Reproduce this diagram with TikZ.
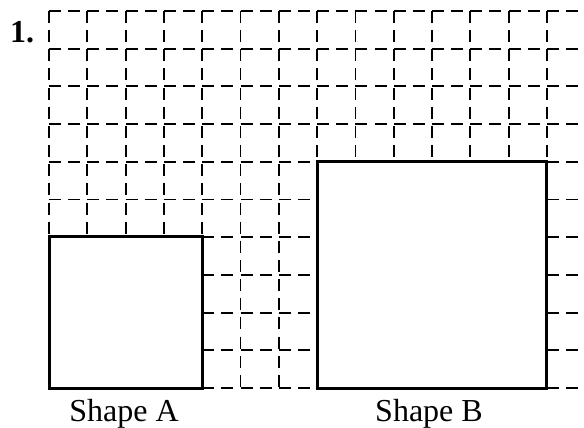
\documentclass[tikz,border=0pt]{standalone}
\usepackage{fontspec}
\setmainfont{Liberation Serif}
\begin{document}
\begin{tikzpicture}[x=1pt,y=-1pt,
  gridline/.style={line width=1.8pt, dash pattern=on 12pt off 7.15pt},
  shapebox/.style={line width=3pt, fill=white},
  lbl/.style={font=\fontsize{32}{36}\selectfont, inner sep=0pt, anchor=base},
  numlbl/.style={font=\fontsize{32}{36}\selectfont\bfseries, inner sep=0pt, anchor=base west}]
\useasboundingbox (0,0) rectangle (584,428);
\begin{scope}
\clip (0,0) rectangle (584,428);
\foreach \i in {0,...,14} {
  \draw[gridline] ({49+38.3*\i},11) -- ({49+38.3*\i},388);
}
\foreach \j in {0,...,10} {
  \draw[gridline] (49,{11+37.7*\j}) -- (600,{11+37.7*\j});
}
\end{scope}
\draw[shapebox] (49,236.2) rectangle (202.2,388);
\draw[shapebox] (317.1,161.8) rectangle (546.9,388);
\node[numlbl] (num) at (10,43) {1.};
\node[lbl] (la) at (124,421) {Shape A};
\node[lbl] (lb) at (429,421) {Shape B};
\end{tikzpicture}
\end{document}
